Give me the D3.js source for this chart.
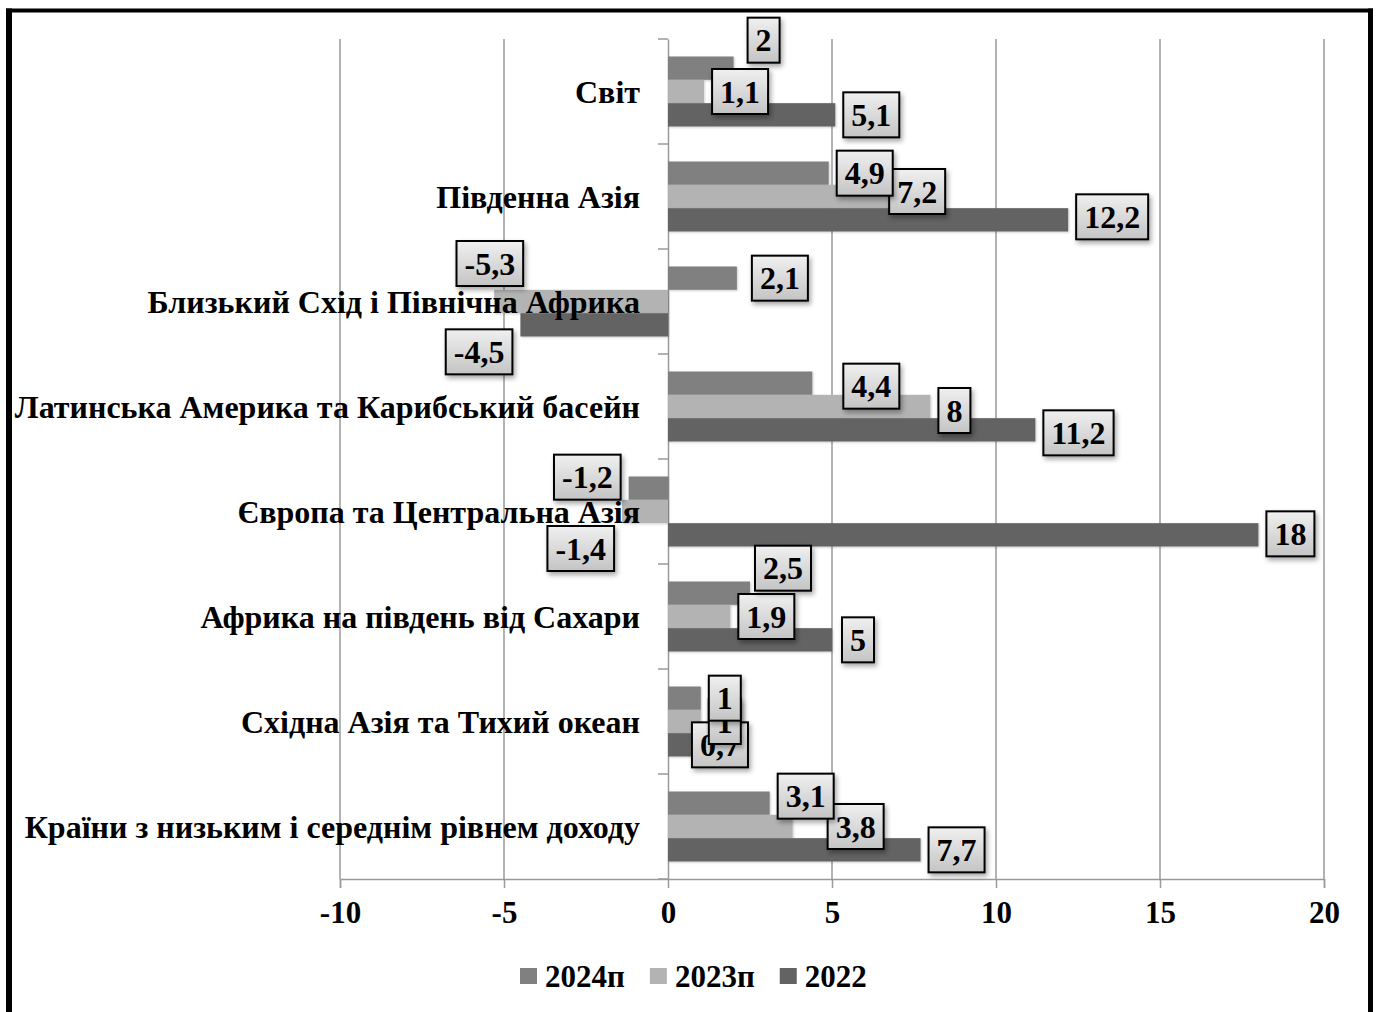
<!DOCTYPE html>
<html><head><meta charset="utf-8">
<script src="https://cdn.jsdelivr.net/npm/d3@7"></script>
<style>
html,body{margin:0;padding:0;background:#fff;}
svg{display:block;}
text{font-family:"Liberation Serif","Times New Roman",serif;font-weight:bold;fill:#000;}
</style></head>
<body>
<svg id="c" width="1376" height="1012"></svg>
<script>
const categories = [
  "Світ",
  "Південна Азія",
  "Близький Схід і Північна Африка",
  "Латинська Америка та Карибський басейн",
  "Європа та Центральна Азія",
  "Африка на південь від Сахари",
  "Східна Азія та Тихий океан",
  "Країни з низьким і середнім рівнем доходу"
];
const seriesNames = ["2024п", "2023п", "2022"];
const values2024 = [2, 4.9, 2.1, 4.4, -1.2, 2.5, 1, 3.1];
const values2023 = [1.1, 7.2, -5.3, 8, -1.4, 1.9, 1, 3.8];
const values2022 = [5.1, 12.2, -4.5, 11.2, 18, 5, 0.7, 7.7];
const xTickValues = [-10, -5, 0, 5, 10, 15, 20];

// layout (not data): colours and label nudges mimicking the manual placement
const colors = {"2024п": "#808080", "2023п": "#b3b3b3", "2022": "#636363"};
const labelNudge = {
  "2024п|0": [6, -28], "2023п|1": [-23, -5], "2022|1": [0, -3],
  "2024п|2": [7, 0], "2023п|2": [37, -38], "2022|2": [0, 27],
  "2024п|3": [23, 3], "2023п|3": [0, 4], "2022|3": [0, 3],
  "2024п|4": [0, -11], "2023п|4": [0, 37], "2022|4": [0, -1],
  "2024п|5": [-3, -25], "2022|5": [2, 0],
  "2022|6": [-7, 0],
  "2024п|7": [0, -7], "2023п|7": [27, 0]
};

const valuesBySeries = {"2024п": values2024, "2023п": values2023, "2022": values2022};
const rows = [];
seriesNames.forEach(s => valuesBySeries[s].forEach((v, i) => rows.push({s, i, cat: categories[i], v})));

const svg = d3.select("#c");
const x = d3.scaleLinear().domain([-10, 20]).range([340, 1324]);
const y0 = d3.scaleBand().domain(categories).range([39, 879]).padding(0);
const y1 = d3.scaleBand().domain(seriesNames).range([0, y0.bandwidth()]).paddingInner(0).paddingOuter(0.75);

const defs = svg.append("defs");
const grad = defs.append("linearGradient").attr("id", "lblGrad").attr("x1", 0).attr("y1", 0).attr("x2", 0).attr("y2", 1);
grad.append("stop").attr("offset", "0%").attr("stop-color", "#f0f0f0");
grad.append("stop").attr("offset", "100%").attr("stop-color", "#c4c4c4");
const sh = defs.append("filter").attr("id", "shadow").attr("x", "-20%").attr("y", "-20%").attr("width", "150%").attr("height", "150%");
sh.append("feDropShadow").attr("dx", 2).attr("dy", 3).attr("stdDeviation", 2.5).attr("flood-color", "#000").attr("flood-opacity", 0.35);
const bsh = defs.append("filter").attr("id", "barShadow").attr("x", "-5%").attr("y", "-20%").attr("width", "110%").attr("height", "150%");
bsh.append("feDropShadow").attr("dx", 1).attr("dy", 1).attr("stdDeviation", 1).attr("flood-color", "#000").attr("flood-opacity", 0.2);

// frame
svg.append("line").attr("x1", 6).attr("x2", 1373).attr("y1", 10.5).attr("y2", 10.5).attr("stroke", "#000").attr("stroke-width", 4);
svg.append("line").attr("x1", 9).attr("x2", 9).attr("y1", 8.5).attr("y2", 1012).attr("stroke", "#000").attr("stroke-width", 6);
svg.append("line").attr("x1", 1370.5).attr("x2", 1370.5).attr("y1", 8.5).attr("y2", 1012).attr("stroke", "#000").attr("stroke-width", 5);

// gridlines
svg.append("g").selectAll("line").data(xTickValues.filter(t => t !== 0)).join("line")
  .attr("x1", d => x(d)).attr("x2", d => x(d)).attr("y1", 39).attr("y2", 879)
  .attr("stroke", "#9a9a9a").attr("stroke-width", 1.5);

// x axis
const xAxis = svg.append("g").attr("transform", "translate(0,879)")
  .call(d3.axisBottom(x).tickValues(xTickValues).tickSize(9).tickPadding(13).tickFormat(d => String(d)));
xAxis.select(".domain").attr("stroke", "#9a9a9a").attr("stroke-width", 1.5);
xAxis.selectAll(".tick line").attr("stroke", "#9a9a9a").attr("stroke-width", 1.5);
xAxis.selectAll(".tick text").attr("font-family", "Liberation Serif, Times New Roman, serif")
  .attr("font-weight", "bold").attr("font-size", 31).attr("fill", "#000");

// category axis at zero
const yAxis = svg.append("g").attr("transform", `translate(${x(0)},0)`)
  .call(d3.axisLeft(y0).tickValues([]).tickSizeOuter(0));
yAxis.select(".domain").attr("stroke", "#9a9a9a").attr("stroke-width", 1.5);
const catTicks = categories.map(c => y0(c)).concat([y0.range()[1]]);
yAxis.selectAll(".ctick").data(catTicks).join("line").attr("class", "ctick")
  .attr("x1", -10).attr("x2", 0).attr("y1", d => d).attr("y2", d => d)
  .attr("stroke", "#9a9a9a").attr("stroke-width", 1.5);

// bars
svg.append("g").selectAll("rect").data(rows).join("rect")
  .attr("x", d => x(Math.min(0, d.v)))
  .attr("width", d => Math.abs(x(d.v) - x(0)))
  .attr("y", d => y0(d.cat) + y1(d.s))
  .attr("height", y1.bandwidth())
  .attr("fill", d => colors[d.s])
  .attr("filter", "url(#barShadow)");

// category labels
svg.append("g").selectAll("text").data(categories).join("text")
  .attr("x", 640).attr("y", d => y0(d) + y0.bandwidth() / 2 + 11)
  .attr("text-anchor", "end").attr("font-size", 32).text(d => d);

// data labels (drawn 2022, 2023, 2024 so later ones sit on top)
const fmt = v => String(v).replace(".", ",");
const order = ["2022", "2023п", "2024п"];
const lblRows = rows.slice().sort((a, b) => order.indexOf(a.s) - order.indexOf(b.s));
const lg = svg.append("g");
lblRows.forEach(d => {
  const g = lg.append("g");
  const t = g.append("text").attr("font-size", 32).attr("text-anchor", "middle").text(fmt(d.v));
  const tw = t.node().getComputedTextLength();
  const w = tw + 16, h = 45;
  const n = labelNudge[d.s + "|" + d.i] || [0, 0];
  const cy = y0(d.cat) + y1(d.s) + y1.bandwidth() / 2 + n[1];
  const left = d.v >= 0 ? x(d.v) + 8 + n[0] : x(d.v) - 8 - w + n[0];
  g.insert("rect", "text").attr("x", left).attr("y", cy - h / 2).attr("width", w).attr("height", h)
    .attr("fill", "url(#lblGrad)").attr("stroke", "#000").attr("stroke-width", 2).attr("filter", "url(#shadow)");
  t.attr("x", left + w / 2).attr("y", cy + 11);
});

// legend
const leg = svg.append("g");
let lx = 520;
seriesNames.forEach(s => {
  leg.append("rect").attr("x", lx).attr("y", 968).attr("width", 17).attr("height", 16).attr("fill", colors[s]);
  const t = leg.append("text").attr("x", lx + 25).attr("y", 987).attr("font-size", 31).text(s);
  lx = lx + 25 + t.node().getComputedTextLength() + 25;
});
</script>
</body></html>
